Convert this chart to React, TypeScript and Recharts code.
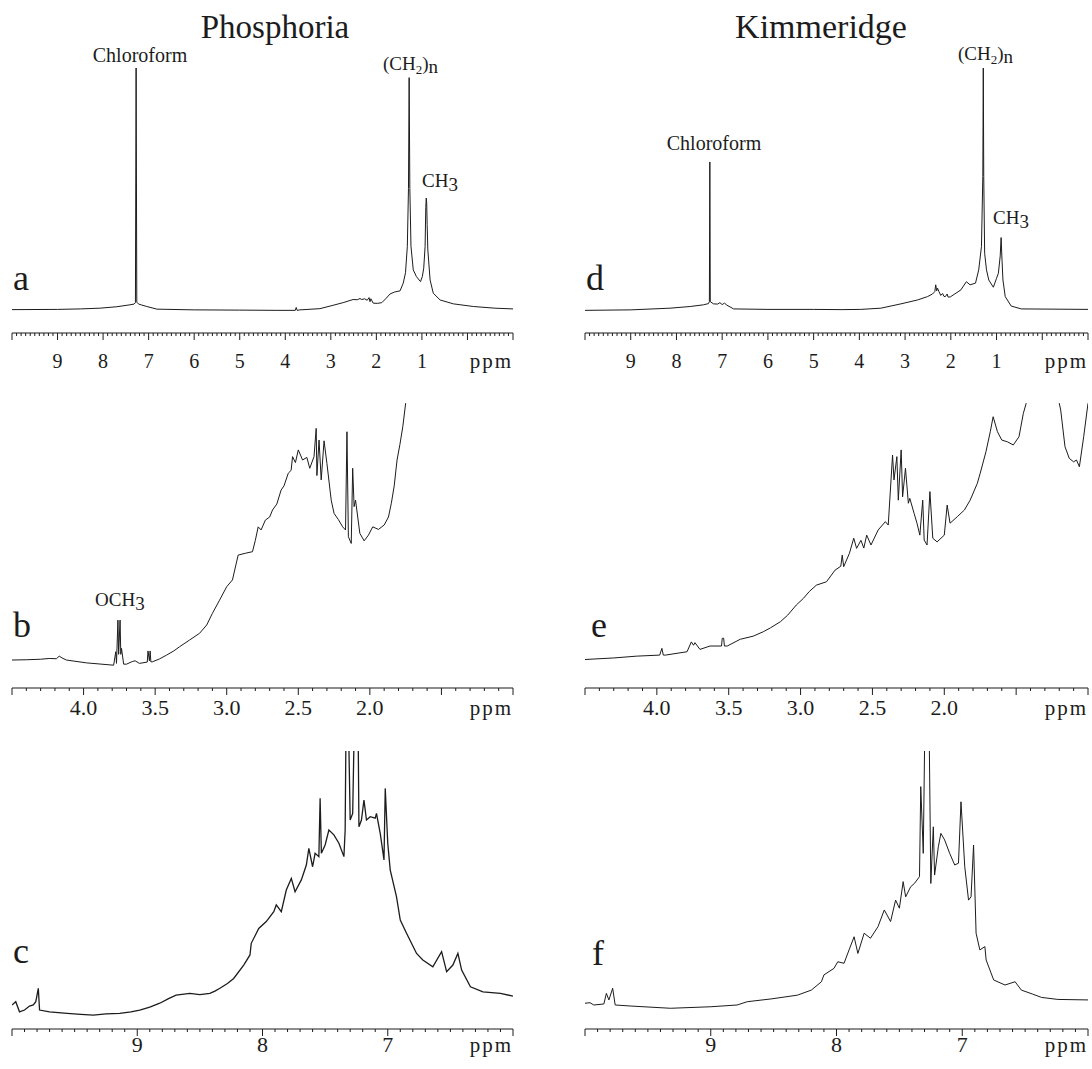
import React from "react";
import { LineChart, Line, XAxis, YAxis } from "recharts";

type Pt = [number, number];

// [ppm, relative intensity]; intensity 100 = top of each panel
const phosphoriaFull: Pt[] = [
  [10.0, -0.3], [9.0, -0.2], [8.5, 0], [8.07, 0.3], [7.7, 0.9], [7.41, 1.7], [7.32, 2.0],
  [7.29, 2.6], [7.275, 100], [7.26, 2.8], [7.22, 2.0], [7.15, 1.6], [7.04, 1.0], [6.82, -0.1],
  [6.0, -0.4], [5.0, -0.5], [4.2, -0.6], [3.78, -0.6], [3.76, 0.6], [3.74, -0.6], [3.68, -0.4],
  [3.24, 0.1], [2.95, 1.5], [2.73, 2.6], [2.51, 3.9], [2.42, 3.8], [2.36, 4.3], [2.32, 3.9],
  [2.26, 4.2], [2.2, 3.6], [2.16, 4.7], [2.14, 3.0], [2.12, 4.2], [2.07, 2.4], [1.98, 2.3],
  [1.88, 2.6], [1.78, 4.5], [1.7, 6.2], [1.6, 7.0], [1.48, 7.5], [1.41, 10.7], [1.36, 15],
  [1.32, 26], [1.295, 50], [1.28, 96], [1.265, 50], [1.24, 26], [1.19, 16.2], [1.12, 13.4],
  [1.03, 11.3], [0.99, 13.5], [0.96, 16.9], [0.93, 25.9], [0.915, 42], [0.905, 46], [0.895, 44],
  [0.885, 35], [0.87, 24.5], [0.82, 12], [0.75, 6.5], [0.6, 3.7], [0.31, 2.1], [-0.13, 1.0],
  [-0.6, 0.3], [-1.0, 0],
];

const kimmeridgeFull: Pt[] = [
  [10.0, -0.6], [9.0, -0.4], [8.14, 0.3], [7.7, 1.0], [7.41, 1.7], [7.3, 2.2], [7.28, 3],
  [7.27, 61], [7.26, 3], [7.19, 2.1], [7.1, 2.0], [7.05, 2.6], [7.0, 1.8], [6.95, 2.4],
  [6.9, 1.6], [6.75, 0], [6.0, -0.2], [5.0, -0.2], [4.4, -0.3], [3.97, -0.2], [3.53, 0.3],
  [3.09, 2.1], [2.73, 3.7], [2.51, 5.1], [2.4, 6.2], [2.35, 7.2], [2.33, 10], [2.31, 7.5],
  [2.29, 8.6], [2.26, 7.2], [2.22, 5.6], [2.18, 6.4], [2.15, 5.2], [2.12, 5.1], [2.08, 6.2],
  [2.06, 4.9], [2.01, 5], [1.78, 7.9], [1.66, 11.3], [1.58, 10], [1.46, 10.7], [1.39, 16.2],
  [1.33, 25.9], [1.3, 55], [1.29, 100], [1.28, 55], [1.26, 23.1], [1.22, 16.2], [1.17, 12],
  [1.07, 9], [1.0, 12.7], [0.96, 14.8], [0.92, 22], [0.9, 29.6], [0.88, 20], [0.86, 12],
  [0.81, 5.1], [0.68, 1.2], [0.46, 0], [-1.0, -0.2],
];

const phosphoriaAliphatic: Pt[] = [
  [4.5, 0.8], [4.4, 0.9], [4.3, 1.1], [4.24, 1.4], [4.19, 1.3], [4.17, 2.3], [4.15, 1.6],
  [4.12, 0.8], [3.98, -0.3], [3.79, -1.2], [3.775, 4], [3.77, -0.5], [3.76, 16.2], [3.755, 3],
  [3.745, 16.2], [3.74, 3], [3.735, 5.3], [3.72, -0.8], [3.7, -0.8], [3.66, 0.2], [3.64, 0.5],
  [3.61, -0.5], [3.555, 0], [3.55, 4.3], [3.54, 0.5], [3.535, 4.3], [3.53, 0.1], [3.52, 0.1],
  [3.47, 1.2], [3.42, 2.7], [3.37, 4.3], [3.33, 5.9], [3.26, 8.5], [3.19, 11.1], [3.14, 14.3],
  [3.1, 18.8], [3.05, 23.9], [3.0, 29.1], [2.96, 31.7], [2.92, 41.3], [2.87, 42], [2.82, 42.6],
  [2.8, 47], [2.78, 52.2], [2.76, 51], [2.73, 54.8], [2.7, 56], [2.68, 58.7], [2.65, 61],
  [2.62, 66.4], [2.6, 68], [2.57, 72.9], [2.55, 74], [2.54, 79.3], [2.52, 77], [2.5, 81.9],
  [2.47, 78], [2.44, 79], [2.42, 74.8], [2.39, 79.3], [2.375, 90.2], [2.37, 72], [2.355, 85.7],
  [2.34, 70.3], [2.32, 85.4], [2.3, 76.7], [2.27, 62.5], [2.25, 57.4], [2.22, 55], [2.19, 52.2],
  [2.17, 51], [2.16, 88.9], [2.15, 48.4], [2.13, 45.8], [2.12, 74.8], [2.11, 60], [2.1, 62.5],
  [2.07, 49.7], [2.04, 46.8], [2.01, 49], [1.98, 52.2], [1.94, 51.2], [1.9, 52.9], [1.87, 56],
  [1.85, 61.3], [1.83, 68], [1.81, 78], [1.79, 84], [1.77, 90.8], [1.75, 99.9], [1.7, 115],
];

const kimmeridgeAliphatic: Pt[] = [
  [4.5, 1.0], [4.3, 1.6], [4.14, 2.3], [3.98, 2.7], [3.965, 5.3], [3.955, 2.7], [3.94, 2.7],
  [3.79, 4], [3.76, 7.8], [3.745, 6.5], [3.735, 7.5], [3.7, 4.9], [3.63, 6.2], [3.55, 6.2],
  [3.545, 9.2], [3.535, 9.2], [3.53, 6.2], [3.51, 6.2], [3.42, 8.8], [3.33, 10], [3.26, 11.7],
  [3.21, 13.2], [3.14, 15.6], [3.09, 18.1], [3.03, 22], [2.98, 24.6], [2.94, 27.2], [2.89, 29.7],
  [2.82, 31], [2.76, 35.5], [2.72, 37], [2.71, 41.3], [2.7, 36.8], [2.66, 42], [2.63, 47.8],
  [2.61, 43.9], [2.58, 47], [2.56, 44], [2.54, 49], [2.51, 45.2], [2.46, 51], [2.41, 54.2],
  [2.39, 52.9], [2.36, 79.9], [2.35, 70.3], [2.33, 79.3], [2.32, 62.5], [2.3, 81.9], [2.29, 63.8],
  [2.27, 74.8], [2.25, 61.3], [2.24, 63.2], [2.21, 57.4], [2.19, 53.6], [2.17, 49], [2.15, 62.5],
  [2.14, 47.1], [2.12, 45.2], [2.1, 65.8], [2.08, 47.8], [2.05, 46.4], [2.0, 49], [1.98, 60.6],
  [1.96, 53.6], [1.91, 56.1], [1.86, 58.7], [1.82, 62.5], [1.77, 69], [1.75, 72.9], [1.71, 81.2],
  [1.68, 88.9], [1.66, 94.7], [1.63, 88.9], [1.6, 85.7], [1.56, 85], [1.52, 83.8], [1.48, 87],
  [1.45, 96], [1.43, 99.9], [1.38, 160], [1.29, 400], [1.22, 160], [1.2, 99.9], [1.19, 97.3],
  [1.16, 83.1], [1.13, 78.6], [1.1, 77.3], [1.08, 78], [1.06, 75.4], [1.03, 87], [1.0, 99.9],
];

const phosphoriaAromatic: Pt[] = [
  [10.0, -0.5], [9.97, 0.8], [9.94, -3.2], [9.9, -2.5], [9.86, -0.9], [9.83, -0.5], [9.81, 0.8],
  [9.79, 6.1], [9.78, -2.5], [9.7, -3.2], [9.56, -3.8], [9.45, -4.2], [9.35, -4.5], [9.25, -4.0],
  [9.14, -3.8], [9.05, -3.2], [8.98, -2.5], [8.9, -1.3], [8.82, 0.2], [8.75, 2], [8.69, 3.4],
  [8.58, 4.1], [8.5, 3.6], [8.42, 4.1], [8.38, 5], [8.34, 6.1], [8.28, 8], [8.23, 10],
  [8.15, 15.3], [8.1, 19.3], [8.09, 23.9], [8.03, 29.8], [7.97, 32.5], [7.91, 36.4], [7.89, 39.1],
  [7.85, 36.4], [7.81, 45], [7.77, 49.6], [7.74, 44.3], [7.69, 49], [7.65, 54.9], [7.63, 61.5],
  [7.6, 54.2], [7.58, 59.5], [7.55, 58.2], [7.54, 81.3], [7.53, 59.5], [7.5, 62.8], [7.47, 68.7],
  [7.43, 66.8], [7.39, 63.5], [7.35, 58.2], [7.34, 68.7], [7.33, 130], [7.32, 130], [7.3, 72.7],
  [7.28, 75.3], [7.26, 130], [7.24, 130], [7.23, 70], [7.21, 72.7], [7.19, 80.6], [7.17, 72.7],
  [7.14, 74], [7.1, 73.4], [7.09, 75.3], [7.06, 67.4], [7.03, 56.9], [7.02, 85.2], [7.0, 63.5],
  [6.98, 52.9], [6.93, 42.3], [6.9, 33.1], [6.85, 27.9], [6.77, 19.9], [6.72, 17.3], [6.64, 14.6],
  [6.57, 20.6], [6.53, 12.7], [6.48, 15.3], [6.44, 19.9], [6.41, 13.3], [6.34, 6.7], [6.24, 4.7],
  [6.1, 4.1], [6.0, 3],
];

const kimmeridgeAromatic: Pt[] = [
  [10.0, 0.2], [9.96, 0.4], [9.93, -0.5], [9.85, -0.1], [9.83, 4.1], [9.81, 1.5], [9.78, 6.1],
  [9.76, -0.5], [9.64, -0.9], [9.32, -1.8], [9.0, -1.2], [8.79, -0.5], [8.71, 0.8], [8.52, 1.9],
  [8.31, 3.4], [8.2, 5.4], [8.12, 8.7], [8.1, 11.4], [8.02, 14], [7.99, 16.6], [7.94, 16],
  [7.9, 21.3], [7.86, 26.5], [7.83, 19.9], [7.78, 27.9], [7.73, 25.9], [7.67, 30.5], [7.62, 37.1],
  [7.57, 32.5], [7.53, 41], [7.5, 37.8], [7.47, 48.3], [7.45, 42.3], [7.41, 46.3], [7.38, 47.6],
  [7.34, 50.3], [7.33, 85.9], [7.31, 59.5], [7.29, 140], [7.27, 140], [7.25, 47.6], [7.23, 70],
  [7.22, 50.9], [7.19, 62.1], [7.17, 67.4], [7.14, 64.8], [7.1, 59.5], [7.06, 54.9], [7.03, 55.6],
  [7.01, 79.9], [6.98, 54.2], [6.95, 41], [6.93, 42.3], [6.91, 62.8], [6.89, 27.9], [6.86, 21.3],
  [6.82, 22.6], [6.81, 17.3], [6.75, 9.4], [6.66, 7.4], [6.58, 8.7], [6.53, 5.4], [6.44, 3.8],
  [6.37, 2.5], [6.24, 1.7], [6.0, 1.5],
];

const fullTickLabels = [9, 8, 7, 6, 5, 4, 3, 2, 1];
const aliphaticTickLabels = [4.0, 3.5, 3.0, 2.5, 2.0];
const aromaticTickLabels = [9, 8, 7];

const INK = "#1c1c1c";
const SERIF = '"Liberation Serif", "Times New Roman", serif';

function tenthTicks(lo: number, hi: number) {
  const out: number[] = [];
  for (let i = Math.round(lo * 10); i <= Math.round(hi * 10); i++) out.push(i / 10);
  return out;
}

function makeTick(labels: number[], majorEvery: number, digits: number, dy: number, fontSize: number) {
  return function PpmTick(props: any) {
    const { x, y, payload } = props;
    const v = payload.value as number;
    const major = Math.round(v * 10) % Math.round(majorEvery * 10) === 0;
    const hasLabel = labels.some((l) => Math.abs(l - v) < 1e-6);
    return (
      <g>
        <line x1={x} y1={y} x2={x} y2={y + (major ? 7 : 3)} stroke={INK} strokeWidth={1} />
        {hasLabel && (
          <text x={x} y={y + dy} textAnchor="middle" fontFamily={SERIF} fontSize={fontSize} fill={INK}>
            {v.toFixed(digits)}
          </text>
        )}
      </g>
    );
  };
}

function Spectrum(p: {
  data: Pt[];
  left: number;
  top: number;
  width: number;
  height: number;
  marginTop: number;
  marginLeft: number;
  marginRight: number;
  axisHeight: number;
  domain: [number, number];
  labels: number[];
  majorEvery: number;
  digits: number;
  labelDy: number;
  fontSize: number;
  strokeWidth?: number;
}) {
  const rows = p.data.map(([ppm, v]) => ({ ppm, v }));
  return (
    <div style={{ position: "absolute", left: p.left, top: p.top }}>
      <LineChart
        width={p.width}
        height={p.height}
        data={rows}
        margin={{ top: p.marginTop, right: p.marginRight, bottom: 0, left: p.marginLeft }}
      >
        <XAxis
          type="number"
          dataKey="ppm"
          domain={p.domain}
          reversed
          allowDataOverflow
          ticks={tenthTicks(p.domain[0], p.domain[1])}
          interval={0}
          tickLine={false}
          tickSize={0}
          tickMargin={0}
          axisLine={{ stroke: INK, strokeWidth: 1.2 }}
          height={p.axisHeight}
          tick={makeTick(p.labels, p.majorEvery, p.digits, p.labelDy, p.fontSize)}
        />
        <YAxis hide domain={[-10, 100]} allowDataOverflow />
        <Line
          type="linear"
          dataKey="v"
          stroke={INK}
          strokeWidth={p.strokeWidth ?? 1}
          dot={false}
          isAnimationActive={false}
        />
      </LineChart>
    </div>
  );
}

export default function App() {
  const t = { fontFamily: SERIF, fill: INK };
  return (
    <div
      style={{
        position: "absolute",
        left: 0,
        top: 0,
        width: 1092,
        height: 1069,
        background: "#fff",
        overflow: "hidden",
      }}
    >
      {/* row 1: full spectra */}
      <Spectrum data={phosphoriaFull} left={0} top={0} width={530} height={383} marginTop={68}
        marginLeft={12} marginRight={17} axisHeight={50} domain={[-1, 10]} labels={fullTickLabels}
        majorEvery={1} digits={0} labelDy={35} fontSize={20} />
      <Spectrum data={kimmeridgeFull} left={573} top={0} width={519} height={383} marginTop={68}
        marginLeft={12} marginRight={4} axisHeight={50} domain={[-1, 10]} labels={fullTickLabels}
        majorEvery={1} digits={0} labelDy={35} fontSize={20} />
      {/* row 2: aliphatic region */}
      <Spectrum data={phosphoriaAliphatic} left={0} top={370} width={530} height={363} marginTop={33}
        marginLeft={12} marginRight={17} axisHeight={45} domain={[1, 4.5]} labels={aliphaticTickLabels}
        majorEvery={0.5} digits={1} labelDy={27} fontSize={22} />
      <Spectrum data={kimmeridgeAliphatic} left={573} top={370} width={519} height={363} marginTop={33}
        marginLeft={12} marginRight={4} axisHeight={45} domain={[1, 4.5]} labels={aliphaticTickLabels}
        majorEvery={0.5} digits={1} labelDy={27} fontSize={22} />
      {/* row 3: aromatic region */}
      <Spectrum data={phosphoriaAromatic} left={0} top={720} width={530} height={349} marginTop={31}
        marginLeft={12} marginRight={17} axisHeight={40} domain={[6, 10]} labels={aromaticTickLabels}
        majorEvery={1} digits={0} labelDy={23} fontSize={22} strokeWidth={1.3} />
      <Spectrum data={kimmeridgeAromatic} left={573} top={720} width={519} height={349} marginTop={31}
        marginLeft={12} marginRight={4} axisHeight={40} domain={[6, 10]} labels={aromaticTickLabels}
        majorEvery={1} digits={0} labelDy={23} fontSize={22} />

      <svg width={1092} height={1069} style={{ position: "absolute", left: 0, top: 0, pointerEvents: "none" }}>
        <text x={275} y={38} textAnchor="middle" fontSize={33} {...t}>Phosphoria</text>
        <text x={821} y={38} textAnchor="middle" fontSize={34} {...t}>Kimmeridge</text>

        <text x={13} y={290} fontSize={36} {...t}>a</text>
        <text x={586} y={290} fontSize={36} {...t}>d</text>
        <text x={13} y={637} fontSize={36} {...t}>b</text>
        <text x={591} y={637} fontSize={36} {...t}>e</text>
        <text x={13} y={963} fontSize={36} {...t}>c</text>
        <text x={592} y={965} fontSize={36} {...t}>f</text>

        <text x={140} y={62} textAnchor="middle" fontSize={20} {...t}>Chloroform</text>
        <text x={383} y={70} fontSize={19} {...t}>
          (CH<tspan dy={4} fontSize={13}>2</tspan><tspan dy={-4}>)</tspan><tspan dy={3}>n</tspan>
        </text>
        <text x={422} y={187} fontSize={19} {...t}>
          CH<tspan dy={4}>3</tspan>
        </text>

        <text x={714} y={150} textAnchor="middle" fontSize={20} {...t}>Chloroform</text>
        <text x={958} y={60} fontSize={19} {...t}>
          (CH<tspan dy={4} fontSize={13}>2</tspan><tspan dy={-4}>)</tspan><tspan dy={3}>n</tspan>
        </text>
        <text x={993} y={224} fontSize={19} {...t}>
          CH<tspan dy={4}>3</tspan>
        </text>

        <text x={95} y={606} fontSize={19} {...t}>
          OCH<tspan dy={4}>3</tspan>
        </text>

        <text x={513} y={368} textAnchor="end" fontSize={21} letterSpacing={2} {...t}>ppm</text>
        <text x={1088} y={368} textAnchor="end" fontSize={21} letterSpacing={2} {...t}>ppm</text>
        <text x={513} y={715} textAnchor="end" fontSize={21} letterSpacing={2} {...t}>ppm</text>
        <text x={1088} y={715} textAnchor="end" fontSize={21} letterSpacing={2} {...t}>ppm</text>
        <text x={513} y={1052} textAnchor="end" fontSize={21} letterSpacing={2} {...t}>ppm</text>
        <text x={1088} y={1052} textAnchor="end" fontSize={21} letterSpacing={2} {...t}>ppm</text>
      </svg>
    </div>
  );
}
